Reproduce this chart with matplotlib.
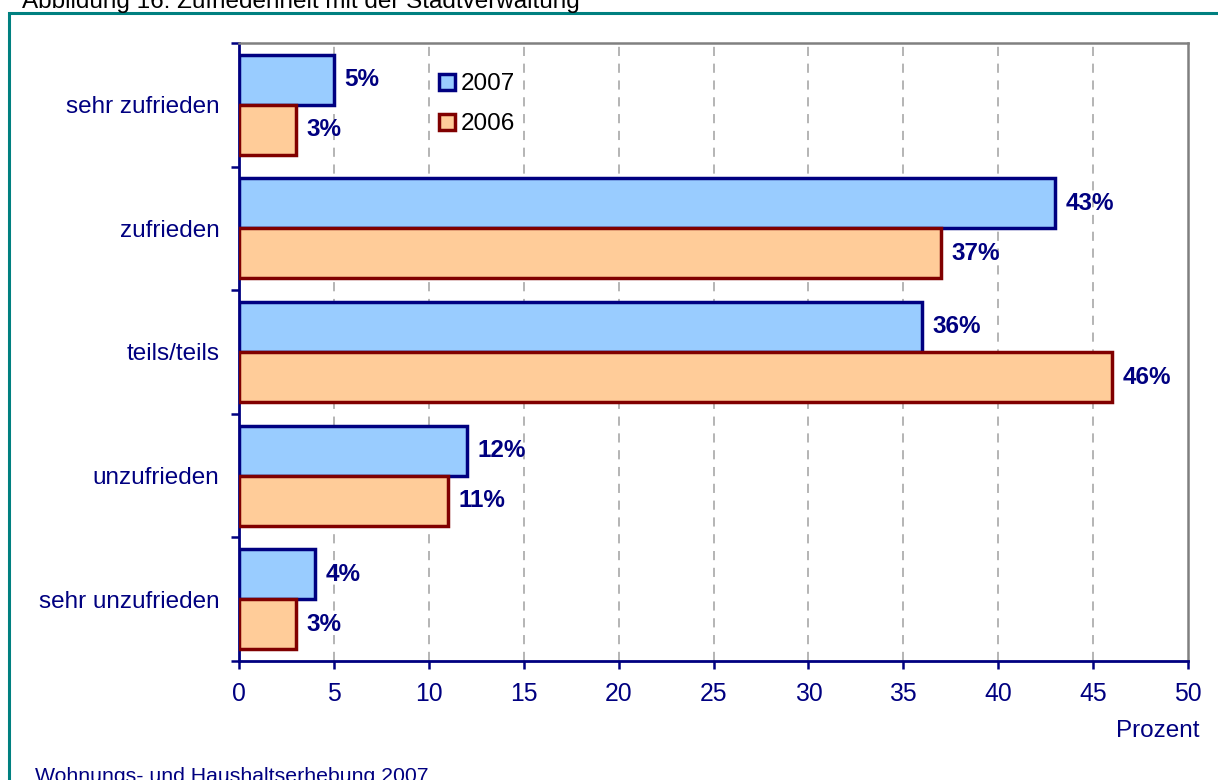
import matplotlib
matplotlib.use("Agg")
import matplotlib.pyplot as plt
import numpy as np
from matplotlib.lines import Line2D
from matplotlib.patches import Rectangle

plt.rcParams['font.family'] = ['Liberation Sans', 'DejaVu Sans']

categories = ["sehr zufrieden", "zufrieden", "teils/teils", "unzufrieden", "sehr unzufrieden"]
values_2007 = [5, 43, 36, 12, 4]
values_2006 = [3, 37, 46, 11, 3]
series_labels = ["2007", "2006"]
x_ticks = [0, 5, 10, 15, 20, 25, 30, 35, 40, 45, 50]

NAVY = "#000080"
MAROON = "#800000"
BLUE_FILL = "#99CCFF"
ORANGE_FILL = "#FFCC99"
TEAL = "#008080"
GRAY = "#808080"
GRID = "#A0A0A0"

W, H = 1218, 780
fig = plt.figure(figsize=(W / 100, H / 100), dpi=100)

# outer teal frame (right/bottom edges fall outside the image)
fig.patches.append(Rectangle((8.5 / W, -0.1), 1.2, 1 - 13 / H + 0.1,
                             transform=fig.transFigure, fill=False,
                             edgecolor=TEAL, linewidth=2.2))

ax = fig.add_axes([239 / W, 1 - 661 / H, (1188 - 239) / W, (661 - 43) / H])

n = len(categories)
y = np.arange(n)
bh = 0.405
ax.barh(y - bh / 2, values_2007, height=bh, color=BLUE_FILL, edgecolor=NAVY,
        linewidth=2.5, zorder=3, label=series_labels[0])
ax.barh(y + bh / 2, values_2006, height=bh, color=ORANGE_FILL, edgecolor=MAROON,
        linewidth=2.5, zorder=3, label=series_labels[1])

for yi, v in zip(y, values_2007):
    ax.annotate(f"{v}%", (v, yi - bh / 2), xytext=(7.5, 0), textcoords="offset points",
                va="center", ha="left", fontsize=17.5, fontweight="bold", color=NAVY, zorder=4)
for yi, v in zip(y, values_2006):
    ax.annotate(f"{v}%", (v, yi + bh / 2), xytext=(7.5, 0), textcoords="offset points",
                va="center", ha="left", fontsize=17.5, fontweight="bold", color=NAVY, zorder=4)

ax.set_xlim(0, 50)
ax.set_ylim(n - 0.5, -0.5)
ax.set_xticks(x_ticks)
ax.set_xticklabels([str(t) for t in x_ticks])
ax.set_yticks(y)
ax.set_yticklabels(categories)
ax.set_yticks(np.arange(n + 1) - 0.5, minor=True)

ax.tick_params(axis="y", which="major", length=0, pad=14, labelsize=17.5, labelcolor=NAVY)
ax.tick_params(axis="y", which="minor", length=6, width=1.8, color=NAVY, direction="out")
ax.tick_params(axis="x", which="major", length=6, width=1.8, color=NAVY, direction="out",
               pad=9, labelsize=17.8, labelcolor=NAVY)

for xv in x_ticks[1:-1]:
    ax.axvline(xv, color=GRID, linestyle=(0, (6, 5)), linewidth=1.1, zorder=1)

ax.spines["left"].set_color(NAVY)
ax.spines["left"].set_linewidth(2.0)
ax.spines["bottom"].set_color(NAVY)
ax.spines["bottom"].set_linewidth(2.0)
ax.spines["top"].set_color(GRAY)
ax.spines["top"].set_linewidth(1.8)
ax.spines["right"].set_color(GRAY)
ax.spines["right"].set_linewidth(1.8)

handles = [
    Line2D([], [], linestyle="none", marker="s", markersize=11.5, markerfacecolor=BLUE_FILL,
           markeredgecolor=NAVY, markeredgewidth=2.5),
    Line2D([], [], linestyle="none", marker="s", markersize=11.5, markerfacecolor=ORANGE_FILL,
           markeredgecolor=MAROON, markeredgewidth=2.5),
]
ax.legend(handles, series_labels, loc="upper left", bbox_to_anchor=(421 / W, 1 - 56 / H),
          bbox_transform=fig.transFigure, frameon=False, fontsize=17.5,
          handlelength=0.7, handletextpad=0.25, labelspacing=0.74, borderpad=0.2)

fig.text(1200 / W, 1 - 737 / H, "Prozent", ha="right", va="baseline",
         fontsize=17.5, color=NAVY)
fig.text(22 / W, 1 - 8 / H, "Abbildung 16: Zufriedenheit mit der Stadtverwaltung",
         ha="left", va="baseline", fontsize=17.5, color="black")
fig.text(35 / W, 1 - 767 / H, "Wohnungs- und Haushaltserhebung 2007",
         ha="left", va="top", fontsize=15.3, color=NAVY)

fig.savefig("out.png", dpi=100)
